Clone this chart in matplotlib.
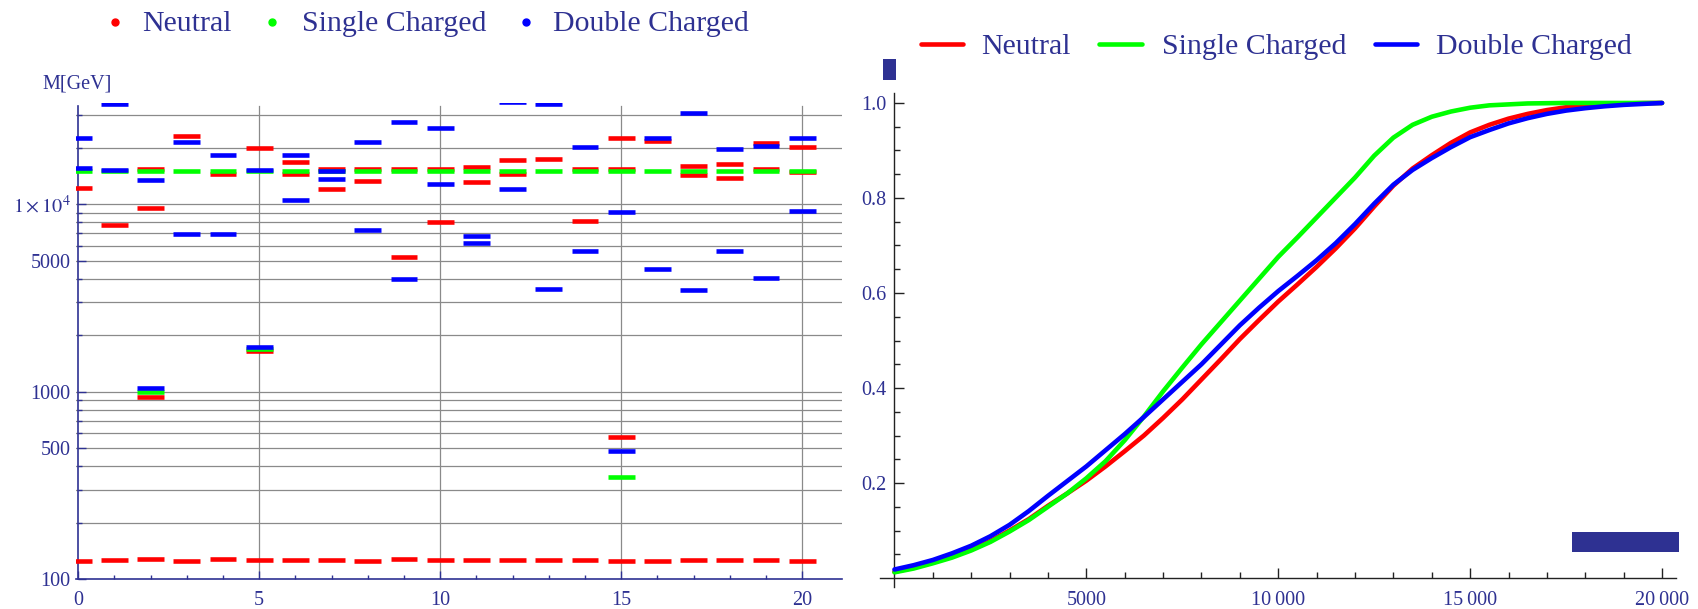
import numpy as np
import matplotlib.pyplot as plt
from matplotlib.lines import Line2D
from matplotlib.patches import Rectangle
from matplotlib.ticker import FixedLocator, NullFormatter

plt.rcParams['font.family'] = ['Liberation Serif', 'DejaVu Serif']
plt.rcParams['mathtext.fontset'] = 'stix'

# ---- data: left panel, mass spectrum per benchmark point (GeV) ----
points = list(range(21))

neutral_masses = [
    [125.2, 12170],
    [126.2, 7730],
    [127.2, 940, 9520, 15500],
    [125.2, 23060],
    [127.2, 14580],
    [125.7, 1650, 19900],
    [126.2, 14560, 16870],
    [126.7, 12030, 15500],
    [125.2, 13270, 15500],
    [127.2, 5210, 15350],
    [125.7, 8015, 15350],
    [126.7, 13150, 15870],
    [125.7, 14560, 17240],
    [126.2, 17460],
    [126.7, 8110, 15350],
    [124.6, 574, 15350, 22680],
    [125.2, 21880],
    [125.7, 14330, 16100],
    [126.7, 13850, 16450],
    [125.7, 15350, 21330],
    [125.2, 14900, 20140],
]

single_masses = [
    [15000], [15000], [1000, 15000], [15000], [15000], [1680, 15000],
    [15000], [15000], [15000], [15000], [15000], [15000], [15000],
    [15000], [15000], [351, 15000], [15000], [15000], [15000], [15000],
    [15000],
]

double_masses = [
    [15570, 22600], [15250, 34300], [1050, 13430], [6940, 21580],
    [6920, 18410], [1724, 15200], [10500, 18350], [13650, 15100],
    [7265, 21580], [3985, 27600], [12790, 25530], [6240, 6800],
    [12070, 35000], [3540, 34500], [5635, 20230], [482, 9060],
    [4500, 22600], [3474, 30830], [5615, 19730], [4055, 20560],
    [9180, 22600],
]

# ---- data: right panel, cumulative fractions (read every 500 GeV) ----
mass_grid = [0, 500, 1000, 1500, 2000, 2500, 3000, 3500, 4000, 4500, 5000,
             5500, 6000, 6500, 7000, 7500, 8000, 8500, 9000, 9500, 10000,
             10500, 11000, 11500, 12000, 12500, 13000, 13500, 14000, 14500, 15000,
             15500, 16000, 16500, 17000, 17500, 18000, 18500, 19000, 19500, 20000]
cdf_neutral = [0.013, 0.022, 0.033, 0.045, 0.060, 0.078, 0.100, 0.124, 0.152, 0.178, 0.205,
               0.235, 0.267, 0.300, 0.337, 0.376, 0.418, 0.460, 0.503, 0.543, 0.582,
               0.618, 0.655, 0.694, 0.736, 0.782, 0.826, 0.862, 0.890, 0.916, 0.938,
               0.954, 0.967, 0.977, 0.985, 0.991, 0.995, 0.997, 0.999, 0.9997, 1.0]
cdf_single = [0.012, 0.020, 0.031, 0.043, 0.058, 0.076, 0.098, 0.122, 0.150, 0.178, 0.210,
              0.246, 0.290, 0.340, 0.393, 0.443, 0.492, 0.538, 0.584, 0.630, 0.676,
              0.717, 0.759, 0.801, 0.843, 0.889, 0.927, 0.954, 0.971, 0.982, 0.990,
              0.995, 0.997, 0.999, 0.9995, 1.0, 1.0, 1.0, 1.0, 1.0, 1.0]
cdf_double = [0.018, 0.027, 0.038, 0.052, 0.068, 0.088, 0.112, 0.141, 0.173, 0.204, 0.235,
              0.269, 0.303, 0.339, 0.376, 0.413, 0.450, 0.491, 0.532, 0.569, 0.604,
              0.636, 0.669, 0.705, 0.745, 0.788, 0.828, 0.859, 0.884, 0.907, 0.928,
              0.943, 0.957, 0.968, 0.977, 0.984, 0.989, 0.993, 0.996, 0.998, 1.0]

labels = ['Neutral', 'Single Charged', 'Double Charged']
colors = ['#ff0000', '#00ff00', '#0000ff']

y_major = [100, 500, 1000, 5000, 10000]
y_major_labels = ['100', '500', '1000', '5000', r'$1\times10^{4}$']
grid_levels = [200, 300, 400, 500, 600, 700, 800, 900, 1000, 2000, 3000, 4000,
               5000, 6000, 7000, 8000, 9000, 10000, 20000, 30000]

NAVY = '#2e3192'
FS_TICK = 14.5
FS_LEG = 21.5

fig = plt.figure(figsize=(16.98, 6.09), dpi=100)

# ================= left panel =================
ax1 = fig.add_axes([0.0448, 0.0494, 0.4511, 0.7821])
ax1.set_yscale('log')
ax1.set_xlim(-0.06, 21.1)
ax1.set_ylim(100, 34900)

for lev in grid_levels:
    ax1.axhline(lev, color='#8a8a8a', lw=0.9, zorder=1)
for xv in [5, 10, 15, 20]:
    ax1.axvline(xv, ymax=0.992, color='#8a8a8a', lw=0.9, zorder=1)

for series, col in zip([neutral_masses, single_masses, double_masses], colors):
    for p, vals in zip(points, series):
        ax1.hlines(vals, p - 0.37, p + 0.37, colors=col, lw=3.3, zorder=3)

for s in ['top', 'right']:
    ax1.spines[s].set_visible(False)
ax1.spines['left'].set_position(('data', 0))
ax1.spines['left'].set_bounds(100, 33300)
for s in ['left', 'bottom']:
    ax1.spines[s].set_color(NAVY)
    ax1.spines[s].set_linewidth(1.2)

ax1.yaxis.set_major_locator(FixedLocator(y_major))
ax1.set_yticklabels(y_major_labels)
ax1.yaxis.set_minor_locator(FixedLocator(grid_levels))
ax1.yaxis.set_minor_formatter(NullFormatter())
ax1.xaxis.set_major_locator(FixedLocator([0, 5, 10, 15, 20]))
ax1.xaxis.set_minor_locator(FixedLocator(points))
ax1.tick_params(which='both', direction='in', colors=NAVY, labelsize=FS_TICK, width=1)
ax1.tick_params(which='major', length=6)
ax1.tick_params(which='minor', length=3)
ax1.tick_params(axis='y', pad=5.5)
ax1.tick_params(axis='x', pad=9)

fig.text(0.0247, 0.8555, 'M[GeV]', color=NAVY, fontsize=14.5, va='baseline')

# legend (dots)
dot_x = [0.0675, 0.160, 0.310]
txt_x = [0.0836, 0.178, 0.3257]
for dx, tx, lab, col in zip(dot_x, txt_x, labels, colors):
    fig.add_artist(Line2D([dx], [0.9645], transform=fig.transFigure, marker='o',
                          ms=5, color=col, lw=0))
    fig.text(tx, 0.9484, lab, color=NAVY, fontsize=FS_LEG, va='baseline')

# ================= right panel =================
ax2 = fig.add_axes([0.5184, 0.0368, 0.4686, 0.8105])
ax2.set_xlim(-370, 20362)
ax2.set_ylim(-0.018, 1.021)

for ys, col in zip([cdf_neutral, cdf_single, cdf_double], colors):
    ax2.plot(mass_grid, ys, color=col, lw=3.3, solid_capstyle='round',
             solid_joinstyle='round', zorder=3)

for s in ['top', 'right']:
    ax2.spines[s].set_visible(False)
ax2.spines['left'].set_position(('data', 0))
ax2.spines['bottom'].set_position(('data', 0))
for s in ['left', 'bottom']:
    ax2.spines[s].set_color('#222222')
    ax2.spines[s].set_linewidth(1.0)

ax2.xaxis.set_major_locator(FixedLocator([5000, 10000, 15000, 20000]))
ax2.set_xticklabels(['5000', '10\u2009000', '15\u2009000', '20\u2009000'])
ax2.xaxis.set_minor_locator(FixedLocator(np.arange(1000, 20001, 1000)))
ax2.yaxis.set_major_locator(FixedLocator([0.2, 0.4, 0.6, 0.8, 1.0]))
ax2.set_yticklabels(['0.2', '0.4', '0.6', '0.8', '1.0'])
ax2.yaxis.set_minor_locator(FixedLocator(np.arange(0.05, 1.001, 0.05)))
ax2.tick_params(which='both', direction='in', color='#222222', labelcolor=NAVY,
                labelsize=FS_TICK, width=1)
ax2.tick_params(which='major', length=7)
ax2.tick_params(which='minor', length=4.5)
ax2.tick_params(axis='y', pad=5.5)
ax2.tick_params(axis='x', pad=9)

# legend (lines)
line_x = [(0.5422, 0.5674), (0.6472, 0.6728), (0.8095, 0.8347)]
txt2_x = [0.5776, 0.6842, 0.8455]
for (x0, x1), tx, lab, col in zip(line_x, txt2_x, labels, colors):
    fig.add_artist(Line2D([x0, x1], [0.928, 0.928], transform=fig.transFigure,
                          color=col, lw=3.3, solid_capstyle='round'))
    fig.text(tx, 0.912, lab, color=NAVY, fontsize=FS_LEG, va='baseline')

# stray boxes seen in the original
fig.add_artist(Rectangle((0.5198, 0.8686), 0.0078, 0.034, transform=fig.transFigure,
                         color=NAVY, lw=0))
fig.add_artist(Rectangle((0.926, 0.0938), 0.0627, 0.0332, transform=fig.transFigure,
                         color=NAVY, lw=0))

fig.savefig('out.png', dpi=100)
